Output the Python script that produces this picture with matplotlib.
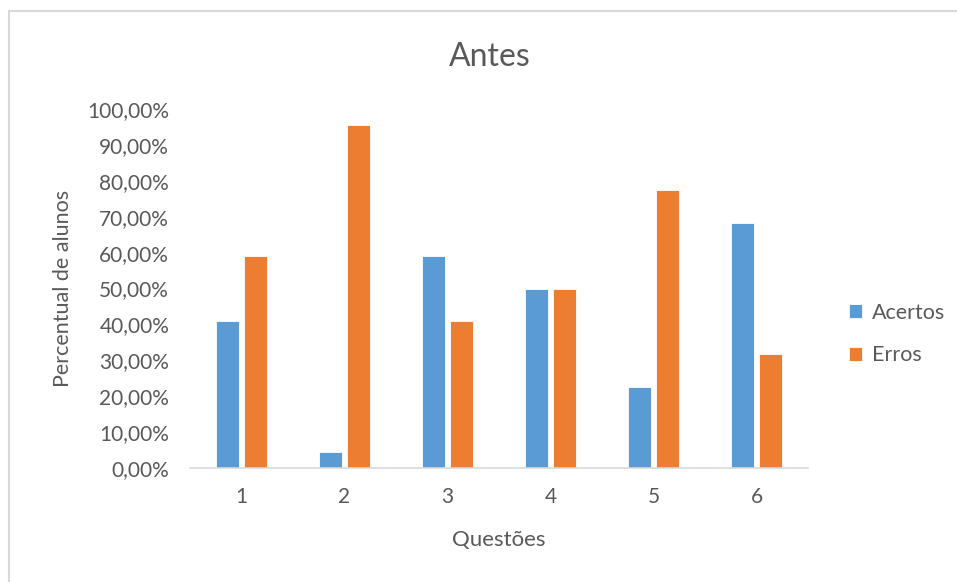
import matplotlib
matplotlib.use("Agg")
import matplotlib.pyplot as plt
import numpy as np
from matplotlib.patches import Rectangle
from matplotlib.ticker import FuncFormatter, MultipleLocator

categories = ["1", "2", "3", "4", "5", "6"]
acertos = [40.9, 4.5, 59.1, 50.0, 22.7, 68.2]
erros = [59.1, 95.5, 40.9, 50.0, 77.3, 31.8]

plt.rcParams['font.family'] = ['Lato', 'DejaVu Sans']
TXT = '#595959'

W, H = 957, 582
fig = plt.figure(figsize=(W/100, H/100), dpi=100)
fig.patches.append(Rectangle((9/W, -0.1), 1.2, 1 - 11/H + 0.1, transform=fig.transFigure,
                             fill=False, edgecolor='#D9D9D9', linewidth=1.5))

ax = fig.add_axes([190/W, 1-468/H, (808-190)/W, (468-109)/H])
x = np.arange(len(categories))
bw = 0.225
ax.bar(x - 0.137, acertos, bw, color='#5B9BD5', edgecolor='white', linewidth=0.6, label='Acertos')
ax.bar(x + 0.137, erros, bw, color='#ED7D31', edgecolor='white', linewidth=0.6, label='Erros')

ax.set_xlim(-0.5, 5.5)
ax.set_ylim(0, 100)
ax.yaxis.set_major_locator(MultipleLocator(10))
ax.yaxis.set_major_formatter(FuncFormatter(lambda v, p: f"{v:.2f}".replace('.', ',') + "%"))
ax.set_xticks(x)
ax.set_xticklabels(categories)
for s in ['top', 'right', 'left']:
    ax.spines[s].set_visible(False)
ax.spines['bottom'].set_color('#D9D9D9')
ax.spines['bottom'].set_linewidth(1.2)
ax.tick_params(axis='both', length=0, colors=TXT, labelsize=15)
ax.tick_params(axis='y', pad=15)
ax.tick_params(axis='x', pad=14)

ax.set_xlabel('Questões', color=TXT, fontsize=16, labelpad=16)
ax.set_ylabel('Percentual de alunos', color=TXT, fontsize=15.5, labelpad=10)
fig.text(490/W, 1-57/H, 'Antes', ha='center', va='center', color=TXT, fontsize=23)

leg = fig.legend(loc='center left', bbox_to_anchor=(830/W, 1-334/H), frameon=False,
                 fontsize=15.5, handlelength=0.6, handleheight=0.6, labelspacing=1.05,
                 handletextpad=0.45)
for t in leg.get_texts():
    t.set_color(TXT)

fig.savefig('out.png', dpi=100, facecolor='white')
